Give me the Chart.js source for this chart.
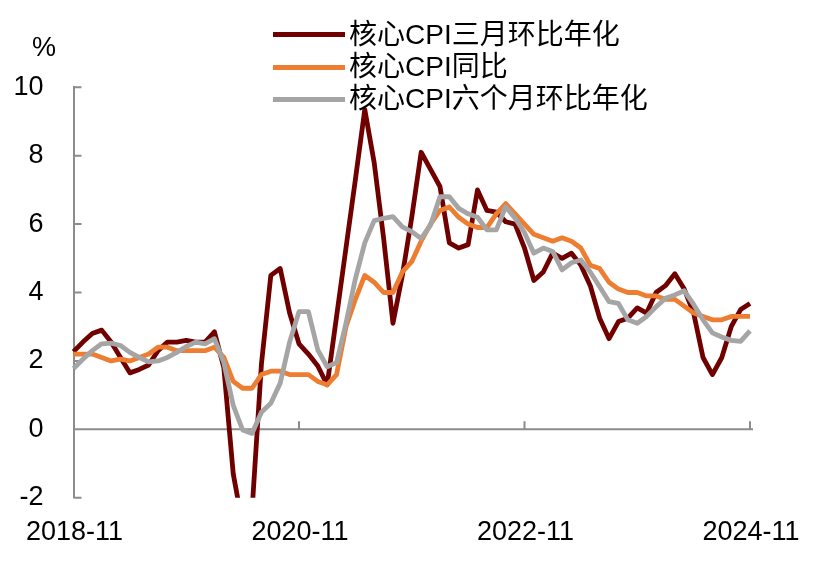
<!DOCTYPE html>
<html>
<head>
<meta charset="utf-8">
<script src="https://cdn.jsdelivr.net/npm/chart.js@4.4.1/dist/chart.umd.min.js"></script>
<style>
  html, body { margin: 0; padding: 0; background: #fff; }
  #wrap { position: relative; width: 826px; height: 567px; }
  #legend { position: absolute; left: 273px; top: 18.5px; color: #000;
            font: 28px "Liberation Sans", Arial, "Noto Sans CJK SC", sans-serif; }
  .row { display: flex; align-items: center; height: 32.35px; line-height: 32.35px; white-space: nowrap; }
  .sw { width: 72px; height: 5px; margin-right: 4px; }
  #unit { position: absolute; left: 32px; top: 32px; line-height: 32px;
          font: 27px "Liberation Sans", Arial, sans-serif; color: #000; }
</style>
</head>
<body>
<div id="wrap">
  <canvas id="c" width="826" height="567"></canvas>
  <div id="unit">%</div>
  <div id="legend"></div>
</div>
<script>
// months 2018-11 .. 2024-11
const MONTHS = [];
for (let y = 2018, m = 11; y < 2024 || (y === 2024 && m <= 11); m++) {
  if (m > 12) { m = 1; y++; }
  MONTHS.push(`${y}-${String(m).padStart(2, "0")}`);
}
const TICK_LABELS = ["2018-11", "2020-11", "2022-11", "2024-11"];

const NAMES = ["核心CPI三月环比年化", "核心CPI同比", "核心CPI六个月环比年化"];
const COLORS = ["#700000", "#ED7D31", "#A5A5A5"];

const CORE_3M = [2.27, 2.55, 2.8, 2.9, 2.55, 2.1, 1.65, 1.75, 1.88, 2.3, 2.55, 2.55, 2.6, 2.55, 2.55,
  2.85, 1.8, -1.3, -2.8, -2.4, 1.9, 4.5, 4.7, 3.4, 2.5, 2.2, 1.85, 1.3, 3.3, 5.3,
  7.3, 9.35, 7.8, 5.6, 3.1, 4.5, 6.2, 8.1, 7.6, 7.1, 5.45, 5.3, 5.4, 7.0, 6.4,
  6.35, 6.07, 6.0, 5.3, 4.35, 4.6, 5.15, 5.0, 5.15, 4.8, 4.2, 3.25, 2.65, 3.15, 3.25,
  3.55, 3.4, 4.0, 4.2, 4.55, 4.1, 3.4, 2.1, 1.6, 2.1, 3.0, 3.5, 3.68];
const CORE_YOY = [2.2, 2.2, 2.2, 2.1, 2.0, 2.05, 2.0, 2.1, 2.2, 2.4, 2.4, 2.3, 2.3, 2.3, 2.3,
  2.4, 2.1, 1.4, 1.2, 1.2, 1.6, 1.7, 1.7, 1.6, 1.6, 1.6, 1.4, 1.3, 1.6, 3.0,
  3.8, 4.5, 4.3, 4.0, 4.0, 4.6, 4.9, 5.5, 6.0, 6.4, 6.5, 6.2, 6.0, 5.9, 5.9,
  6.3, 6.6, 6.3, 6.0, 5.7, 5.6, 5.5, 5.6, 5.5, 5.3, 4.8, 4.7, 4.3, 4.1, 4.0,
  4.0, 3.9, 3.9, 3.8, 3.8, 3.6, 3.4, 3.3, 3.2, 3.2, 3.3, 3.3, 3.3];
const CORE_6M = [1.78, 2.05, 2.3, 2.5, 2.52, 2.45, 2.25, 2.1, 1.97, 2.0, 2.1, 2.25, 2.42, 2.55, 2.5,
  2.65, 1.95, 0.7, -0.02, -0.12, 0.5, 0.76, 1.35, 2.55, 3.44, 3.44, 2.32, 1.83, 1.95, 3.1,
  4.4, 5.45, 6.1, 6.17, 6.22, 5.92, 5.78, 5.58, 5.97, 6.8, 6.8, 6.46, 6.3, 6.2, 5.83,
  5.83, 6.51, 6.17, 5.75, 5.15, 5.3, 5.2, 4.66, 4.87, 4.95, 4.6, 4.17, 3.73, 3.68, 3.2,
  3.1, 3.3, 3.58, 3.83, 3.93, 4.05, 3.65, 3.2, 2.82, 2.7, 2.6, 2.57, 2.88];
const SERIES = [CORE_3M, CORE_YOY, CORE_6M];

const AXIS = "#8c8c8c";
Chart.defaults.font.family = '"Liberation Sans", Arial, sans-serif';
Chart.defaults.font.size = 27;
Chart.defaults.color = "#000";

// axis line at zero, inward y ticks, upward x ticks
const axisMarks = {
  id: "axisMarks",
  beforeDatasetsDraw(chart) {
    const { ctx, chartArea: a, scales: { x, y } } = chart;
    const y0 = y.getPixelForValue(0);
    ctx.save();
    ctx.strokeStyle = AXIS;
    ctx.lineWidth = 2;
    ctx.beginPath();
    ctx.moveTo(a.left, y0); ctx.lineTo(a.right + 3, y0);
    y.ticks.forEach((t) => {
      const py = y.getPixelForValue(t.value);
      ctx.moveTo(a.left, py); ctx.lineTo(a.left + 8, py);
    });
    MONTHS.forEach((m, i) => {
      if (i > 0 && TICK_LABELS.includes(m)) {
        const px = x.getPixelForValue(i);
        ctx.moveTo(px, y0); ctx.lineTo(px, y0 - 8);
      }
    });
    ctx.stroke();
    ctx.restore();
  },
};

new Chart(document.getElementById("c"), {
  type: "line",
  data: {
    labels: MONTHS,
    datasets: SERIES.map((s, i) => ({
      label: NAMES[i], data: s, borderColor: COLORS[i], backgroundColor: COLORS[i],
      borderWidth: 4.8, pointRadius: 0, tension: 0, borderJoinStyle: "round",
      order: 2 - i, clip: { left: 5, right: 5, top: 5, bottom: 0 },
    })),
  },
  options: {
    responsive: false, animation: false, events: [],
    layout: { padding: { top: 87.3, right: 76, left: 0, bottom: 0 } },
    plugins: { legend: { display: false }, tooltip: { enabled: false } },
    scales: {
      x: {
        offset: false,
        grid: { display: false, drawTicks: false },
        border: { display: false },
        ticks: {
          autoSkip: false, maxRotation: 0, padding: 19, labelOffset: 1,
          callback: (v, i) => (TICK_LABELS.includes(MONTHS[i]) ? MONTHS[i] : null),
        },
        afterFit: (s) => { s.height = 69.3; },
      },
      y: {
        min: -2, max: 10,
        grid: { display: false, drawTicks: false },
        border: { display: true, color: AXIS, width: 2 },
        ticks: { stepSize: 2, padding: 30 },
        afterFit: (s) => { s.width = 73.5; },
      },
    },
  },
  plugins: [axisMarks],
});

// legend
const leg = document.getElementById("legend");
NAMES.forEach((n, i) => {
  const row = document.createElement("div");
  row.className = "row";
  row.innerHTML = `<span class="sw" style="background:${COLORS[i]}"></span><span>${n}</span>`;
  leg.appendChild(row);
});
</script>
</body>
</html>
